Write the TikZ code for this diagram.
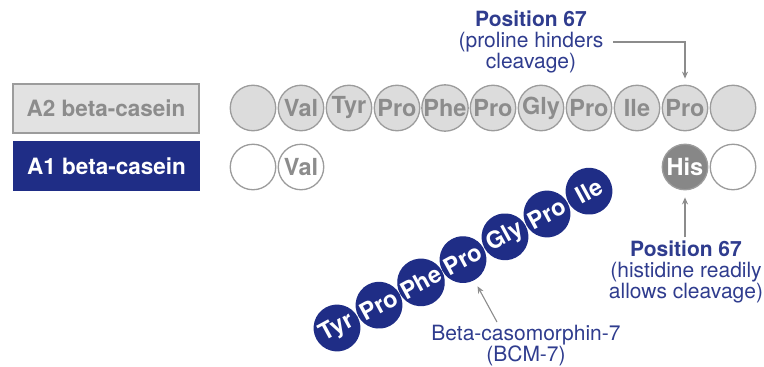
\documentclass[tikz,border=0pt]{standalone}
\usepackage{fontspec}
\setmainfont{TeX Gyre Heros}
\usetikzlibrary{arrows.meta}

\definecolor{caseinblue}{HTML}{1F2D86}
\definecolor{notetext}{HTML}{2F3C8E}
\definecolor{ringgray}{HTML}{9C9C9C}
\definecolor{aminofill}{HTML}{DCDCDC}
\definecolor{aminotext}{HTML}{8C8C8C}
\definecolor{hisfill}{HTML}{878787}
\definecolor{boxfill}{HTML}{E2E2E2}

\tikzset{
    amino/.style={circle, draw=ringgray, line width=1.3pt, minimum size=45.5pt, inner sep=0pt,
        fill=aminofill, text=aminotext, font=\fontsize{23.5}{24}\selectfont\bfseries},
    blank/.style={amino, fill=white},
    mutant/.style={amino, fill=hisfill, text=white},
    peptide/.style={amino, draw=caseinblue, fill=caseinblue, text=white, rotate=28.5},
    variant/.style={rectangle, minimum width=186pt, minimum height=49pt, line width=1.5pt,
        font=\fontsize{22.5}{24}\selectfont\bfseries},
    note/.style={align=center, text=notetext, font=\fontsize{21}{21}\selectfont},
    pointer/.style={draw=aminotext, line width=1.1pt, -{Stealth[length=7pt,width=6pt]}}
}

\begin{document}
\begin{tikzpicture}[x=1pt, y=-1pt]
        \useasboundingbox (0,0) rectangle (764,367);

        % variant labels
        \node[variant, draw=ringgray, fill=boxfill, text=aminotext] (a2label) at (106,108.5) {A2 beta-casein};
        \node[variant, draw=caseinblue, fill=caseinblue, text=white] (a1label) at (106.5,166) {A1 beta-casein};

        % A2 chain
        \node[amino] (a2start) at (253,108) {};
        \node[amino] (a2val) at (301,108) {Val};
        \node[amino] (a2tyr) at (349,108) {Tyr};
        \node[amino] (a2proa) at (397,108) {Pro};
        \node[amino] (a2phe) at (445,108) {Phe};
        \node[amino] (a2prob) at (493,108) {Pro};
        \node[amino] (a2gly) at (541,108) {Gly};
        \node[amino] (a2proc) at (589,108) {Pro};
        \node[amino] (a2ile) at (637,108) {Ile};
        \node[amino] (a2pro67) at (685,108) {Pro};
        \node[amino] (a2end) at (733,108) {};

        % A1 chain
        \node[blank] (a1start) at (253,167) {};
        \node[blank] (a1val) at (301,167) {Val};
        \node[mutant] (a1his67) at (685,167) {His};
        \node[blank] (a1end) at (733,167) {};

        % released peptide
        \node[peptide] (bcm1) at (337,328) {Tyr};
        \node[peptide] (bcm2) at (379,305.2) {Pro};
        \node[peptide] (bcm3) at (421,282.4) {Phe};
        \node[peptide] (bcm4) at (463,259.6) {Pro};
        \node[peptide] (bcm5) at (505,236.8) {Gly};
        \node[peptide] (bcm6) at (547,214) {Pro};
        \node[peptide] (bcm7) at (589,191.2) {Ile};

        % notes
        \node[note] (pronote) at (531,42) {\textbf{Position 67}\\(proline hinders\\cleavage)};
        \node[note] (hisnote) at (686,272) {\textbf{Position 67}\\(histidine readily\\allows cleavage)};
        \node[note] (bcmnote) at (526,346) {Beta-casomorphin-7\\(BCM-7)};

        \coordinate (prostart) at (613,42);
        \coordinate (bcmfoot) at (497,322);

        \draw[pointer, shorten >=6pt] (prostart) -| (a2pro67.north);
        \draw[pointer, shorten >=7pt] (a1his67.south |- hisnote.north) -- (a1his67.south);
        \draw[pointer, shorten >=7pt] (bcmfoot) -- (bcm4);

\end{tikzpicture}
\end{document}
